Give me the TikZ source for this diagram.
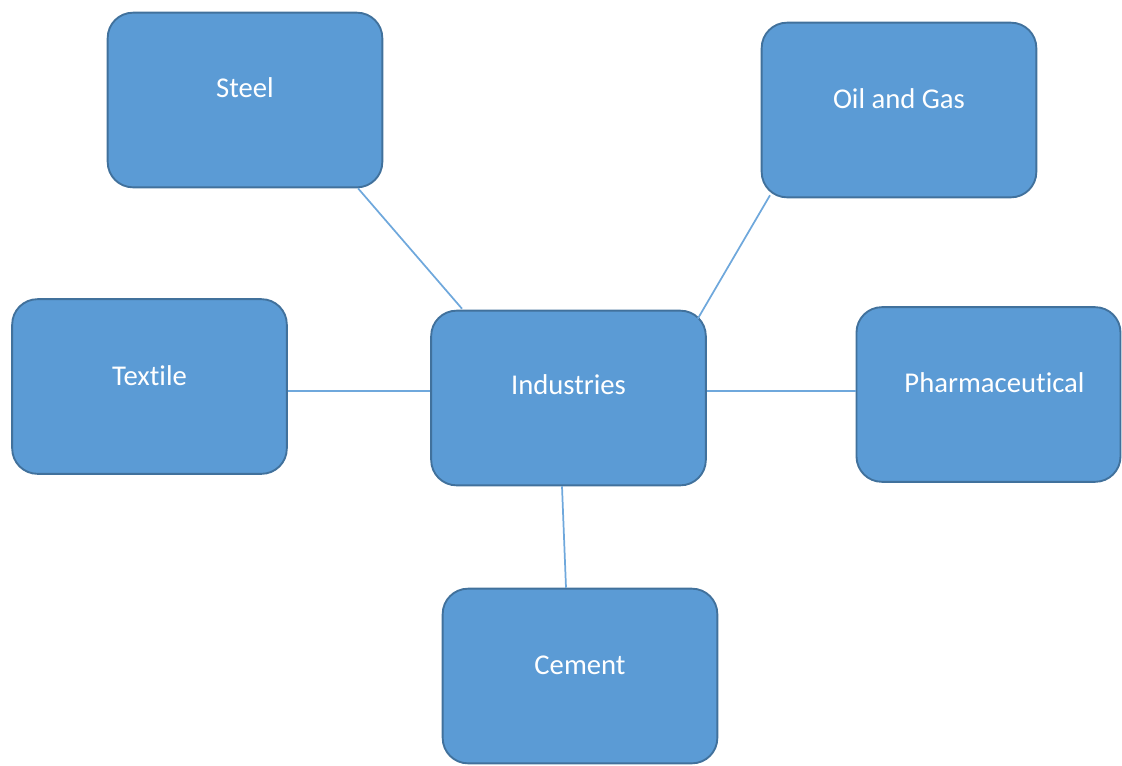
\documentclass[tikz,border=0pt]{standalone}
\usepackage{fontspec}
\setmainfont{Carlito}[Ligatures=NoCommon]
\usetikzlibrary{calc}
\definecolor{boxfill}{HTML}{5B9BD5}
\definecolor{boxline}{HTML}{41719C}
\definecolor{linkcol}{HTML}{6FA8DC}
\tikzset{
  box/.style={draw=boxline, line width=1.4pt, fill=boxfill, rounded corners=19pt,
    minimum width=#1, minimum height=131pt, inner sep=0pt},
  box/.default=206pt,
  lbl/.style={text=white, font=\fontsize{21.5}{25}\selectfont, inner sep=0pt},
  link/.style={draw=linkcol, line width=1.3pt}
}
\begin{document}
\begin{tikzpicture}[x=0.75pt, y=-0.75pt]
\useasboundingbox (0,0) rectangle (1122,765);
\clip (0,0) rectangle (1122,765);
% boxes
\node[box] (steel) at (245,100) {};
\node[box] (oil) at (899,110) {};
\node[box] (tex) at (149.5,386.5) {};
\node[box] (ind) at (568.5,398) {};
\node[box=198pt] (pha) at (988.5,394.5) {};
\node[box] (cem) at (580,676) {};
% labels
\node[lbl] (steelt) at ($(steel.center)+(0,-12)$) {Steel};
\node[lbl] (oilt) at ($(oil.center)+(0,-11)$) {Oil and Gas};
\node[lbl] (text) at ($(tex.center)+(0,-11)$) {Textile};
\node[lbl] (indt) at ($(ind.center)+(0,-13)$) {Industries};
\node[lbl] (phat) at ($(pha.center)+(6,-12)$) {Pharmaceutical};
\node[lbl] (cemt) at ($(cem.center)+(0,-11)$) {Cement};
% connectors
\path[link] ($(steel.south)+(113,0)$) -- ($(ind.north)+(-106.5,-1)$);
\path[link] ($(oil.south)+(-129,-3)$) -- ($(ind.north east)+(-9,9)$);
\path[link] ($(tex.east)+(0,4.5)$) -- ($(ind.west)+(0,-7)$);
\path[link] ($(ind.east)+(0,-7)$) -- ($(pha.west)+(0,-3.5)$);
\path[link] ($(ind.south)+(-6.5,0)$) -- ($(cem.north)+(-14,0)$);
\end{tikzpicture}
\end{document}
